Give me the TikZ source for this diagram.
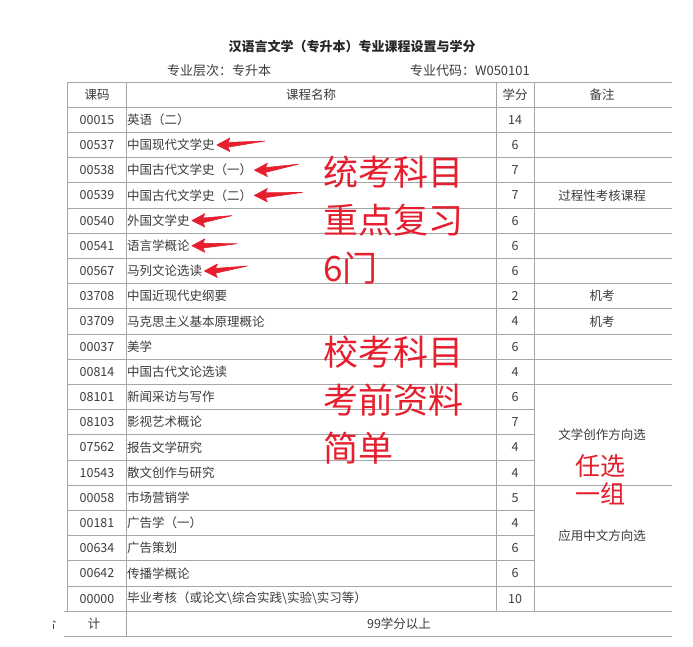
\documentclass[tikz,border=0pt]{standalone}
\usepackage{fontspec}
\setmainfont{Noto Sans CJK SC}
\usetikzlibrary{arrows.meta}
\definecolor{txt}{HTML}{3C3C3C}
\definecolor{gridc}{HTML}{A6A6A6}
\definecolor{markred}{HTML}{E61E2D}
\begin{document}
\begin{tikzpicture}[x=1pt,y=-1pt,
  cell/.style={inner sep=0pt,text=txt,font=\fontsize{12.5}{14}\selectfont},
  namecell/.style={cell,anchor=west},
  titletext/.style={inner sep=0pt,text=black!85,font=\fontsize{13}{15}\selectfont\bfseries},
  subtext/.style={inner sep=0pt,text=txt,font=\fontsize{13}{15}\selectfont},
  bigred/.style={inner sep=0pt,anchor=west,text=markred,font=\fontsize{35}{40}\selectfont},
  midred/.style={inner sep=0pt,text=markred,font=\fontsize{25}{28}\selectfont},
  gridline/.style={draw=gridc,line width=0.9pt},
  redarrow/.style={fill=markred,draw=markred,line width=0.6pt,line join=round}
]
\useasboundingbox (0,0) rectangle (693,647);
\fill[white] (0,0) rectangle (693,647);

% title
\node[titletext] (title) at (352,47) {汉语言文学（专升本）专业课程设置与学分};
\node[subtext] (level) at (219,71) {专业层次：专升本};
\node[subtext] (code) at (470,71) {专业代码：W050101};

% grid lines
\foreach \k in {0,...,12,16,20} \draw[gridline] (67,{82+25.2*\k}) -- (672,{82+25.2*\k});
\foreach \k in {13,14,15,17,18,19} \draw[gridline] (67,{82+25.2*\k}) -- (534,{82+25.2*\k});
\foreach \k in {21,22} \draw[gridline] (64,{82+25.2*\k}) -- (672,{82+25.2*\k});
\draw[gridline] (67,82) -- (67,611.2);
\draw[gridline] (126,82) -- (126,636.4);
\draw[gridline] (496,82) -- (496,611.2);
\draw[gridline] (534,82) -- (534,611.2);

% header
\node[cell] (h1) at (97,94.6) {课码};
\node[cell] (h2) at (311,94.6) {课程名称};
\node[cell] (h3) at (515,94.6) {学分};
\node[cell] (h4) at (602,94.6) {备注};

% rows
\foreach \c/\n/\s [count=\i from 0] in {
  00015/英语（二）/14,
  00537/中国现代文学史/6,
  00538/中国古代文学史（一）/7,
  00539/中国古代文学史（二）/7,
  00540/外国文学史/6,
  00541/语言学概论/6,
  00567/马列文论选读/6,
  03708/中国近现代史纲要/2,
  03709/马克思主义基本原理概论/4,
  00037/美学/6,
  00814/中国古代文论选读/4,
  08101/新闻采访与写作/6,
  08103/影视艺术概论/7,
  07562/报告文学研究/4,
  10543/散文创作与研究/4,
  00058/市场营销学/5,
  00181/广告学（一）/4,
  00634/广告策划/6,
  00642/传播学概论/6,
  00000/毕业考核（或论文\textbackslash 综合实践\textbackslash 实验\textbackslash 实习等）/10}
{
  \node[cell] (c\i) at (97,{119.8+25.2*\i}) {\c};
  \node[namecell] (n\i) at (127,{119.8+25.2*\i}) {\n};
  \node[cell] (s\i) at (515,{119.8+25.2*\i}) {\s};
}

% total row
\begin{scope}
  \clip (53,612) rectangle (126,636);
  \node[cell] (he) at (50,623.8) {合};
\end{scope}
\node[cell] (ji) at (94,623.8) {计};
\node[cell] (tot) at (399,623.8) {99学分以上};

% notes
\node[cell] (r3) at (602,195.4) {过程性考核课程};
\node[cell] (r7) at (602,296.2) {机考};
\node[cell] (r8) at (602,321.4) {机考};
\node[cell] (g1) at (602,434.8) {文学创作方向选};
\node[cell] (g2) at (602,535.6) {应用中文方向选};
\node[midred] (pick1) at (600,466) {任选};
\node[midred] (pick2) at (600,494) {一组};

% big red annotations
\node[bigred] (a1) at (323,172) {统考科目};
\node[bigred] (a2) at (323,220) {重点复习};
\node[bigred] (a3) at (323,268) {6门};
\node[bigred] (b1) at (323,352) {校考科目};
\node[bigred] (b2) at (323,400) {考前资料};
\node[bigred] (b3) at (323,448) {简单};

% red tapered arrows (tail rises slightly away from the text)
\foreach \j/\len/\rise in {1/50/4, 2/46/6, 3/50/3, 4/42/5, 5/47/2, 6/45/5}
  \fill[redarrow]
    ([shift={(\len,-\rise)}]n\j.east)
    -- ([shift={(13,-2.6)}]n\j.east)
    -- ([shift={(15,-7)}]n\j.east)
    -- ([shift={(2,0)}]n\j.east)
    -- ([shift={(15,6.5)}]n\j.east)
    -- ([shift={(13,2.2)}]n\j.east)
    -- cycle;
\end{tikzpicture}
\end{document}
